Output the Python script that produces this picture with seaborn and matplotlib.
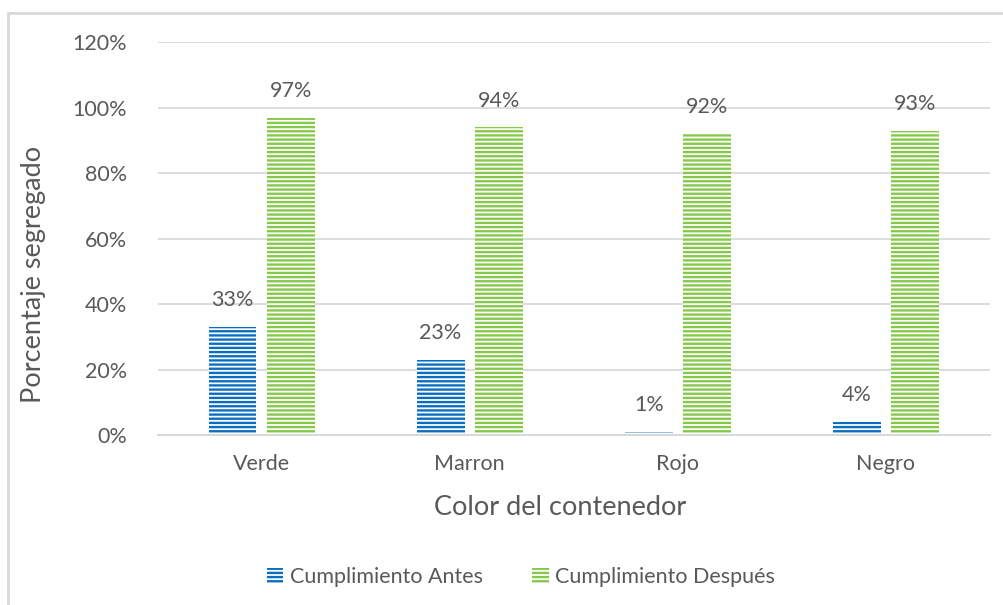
import matplotlib
matplotlib.use("Agg")
import matplotlib.pyplot as plt
import seaborn as sns
import pandas as pd
from matplotlib.patches import Patch
from matplotlib.lines import Line2D

categories = ["Verde", "Marron", "Rojo", "Negro"]
antes = [33, 23, 1, 4]
despues = [97, 94, 92, 93]
series_names = ["Cumplimiento Antes", "Cumplimiento Después"]
yticks = [0, 20, 40, 60, 80, 100, 120]

df = pd.DataFrame({
    "cat": categories * 2,
    "val": antes + despues,
    "serie": [series_names[0]] * 4 + [series_names[1]] * 4,
})

sns.set_theme(style="white")
plt.rcParams["font.family"] = ["Lato", "DejaVu Sans"]
plt.rcParams["hatch.linewidth"] = 1.7
txt = "#595959"
grid = "#d9d9d9"
colors = ["#0a6fc2", "#86c94a"]

fig = plt.figure(figsize=(10.04, 6.05), dpi=100)
ax = fig.add_axes([0.157, 0.281, 0.829, 0.649])

sns.barplot(data=df, x="cat", y="val", hue="serie", order=categories,
            hue_order=series_names, palette=colors, width=0.56, gap=0.18,
            ax=ax, legend=False, errorbar=None)

for cont, col in zip(ax.containers, colors):
    for p in cont:
        p.set_facecolor("white")
        p.set_edgecolor(col)
        p.set_linewidth(0)
        p.set_hatch("----")
    ax.bar_label(cont, labels=[f"{v:.0f}%" for v in cont.datavalues],
                 padding=12, fontsize=15.5, color=txt)

ax.set_ylim(0, 120)
ax.set_yticks(yticks)
ax.set_yticklabels([f"{v}%" for v in yticks])
ax.yaxis.grid(True, color=grid, linewidth=1.3)
ax.set_axisbelow(True)
for s in ["top", "right", "left"]:
    ax.spines[s].set_visible(False)
ax.spines["bottom"].set_color(grid)
ax.spines["bottom"].set_linewidth(1.5)
ax.tick_params(axis="y", length=0, pad=22, labelsize=15.5, labelcolor=txt)
ax.tick_params(axis="x", length=0, pad=14, labelsize=15.5, labelcolor=txt)
ax.set_xlabel("Color del contenedor", fontsize=19.5, color=txt)
ax.xaxis.set_label_coords(0.483, -0.152)
ax.set_ylabel("Porcentaje segregado", fontsize=19.5, color=txt)
ax.yaxis.set_label_coords(-0.134, 0.41)

handles = [Patch(facecolor="white", edgecolor=c, hatch="----", linewidth=0) for c in colors]
fig.legend(handles, series_names, loc="center", bbox_to_anchor=(0.519, 0.046),
           ncol=2, frameon=False, fontsize=15.5, labelcolor=txt,
           handlelength=0.75, handleheight=0.75, handletextpad=0.3, columnspacing=2.3)

# chart border (left and top edges visible)
fig.add_artist(Line2D([0.008, 0.008], [0, 1 - 13 / 605], color=grid, linewidth=2, transform=fig.transFigure))
fig.add_artist(Line2D([0.008, 1], [1 - 13 / 605, 1 - 13 / 605], color=grid, linewidth=2, transform=fig.transFigure))

fig.savefig("out.png", dpi=100)
